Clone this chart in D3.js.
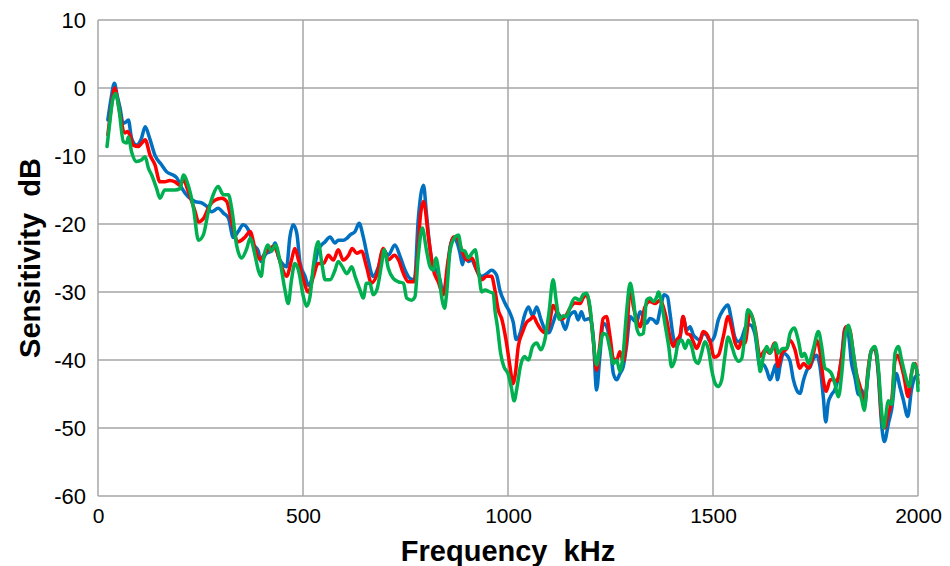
<!DOCTYPE html>
<html><head><meta charset="utf-8">
<script src="https://cdn.jsdelivr.net/npm/d3@7"></script>
<style>
body{margin:0;background:#fff;}
svg{display:block;}
.tick text{font-family:"Liberation Sans",Arial,sans-serif;}
</style></head>
<body>
<svg id="chart" width="950" height="566"></svg>
<script>
const xTicks = [0, 500, 1000, 1500, 2000];
const yTicks = [10, 0, -10, -20, -30, -40, -50, -60];
const xTitle = "Frequency  kHz";
const yTitle = "Sensitivity  dB";
const seriesColors = ["#0070C0", "#FF0000", "#00B050"];

const blue = [[24,-4.7],[32,-1.5],[40,0.7],[47,-1.2],[54,-3],[61,-5.2],[68,-5],[74,-4.7],[82,-7.4],[94,-8.4],[106,-7.4],[115,-5.7],[127,-7.6],[139,-9.9],[155,-11.3],[167,-12.3],[183,-12.8],[192,-13.2],[204,-14.7],[220,-16],[237,-16.7],[253,-16.9],[265,-17.4],[277,-18.2],[293,-17.7],[306,-18.4],[318,-19.1],[330,-22],[342,-21.1],[354,-20.1],[367,-20.9],[379,-23],[391,-24],[397,-25.5],[411,-24.3],[423,-24],[432,-22.8],[440,-24.8],[452,-26],[460,-26.3],[468,-21.9],[476,-20.1],[485,-21.4],[493,-25.8],[505,-27.7],[513,-29],[525,-27.3],[537,-23.8],[554,-22.6],[566,-21.9],[578,-22.8],[586,-22.4],[598,-22.4],[607,-22.1],[615,-21.6],[627,-21.1],[637,-19.9],[647,-21.9],[659,-25.3],[671,-27.7],[684,-26.3],[696,-23.8],[708,-24.6],[724,-23.1],[737,-24.8],[749,-26.8],[761,-28],[772,-28.2],[781,-19.4],[794,-14.3],[801,-18.4],[810,-23.8],[818,-26.3],[826,-26.8],[834,-28.2],[842,-30.2],[850,-28.2],[859,-23.3],[867,-22.1],[875,-22.6],[883,-24.3],[889,-26],[895,-24.3],[903,-25.5],[912,-25.3],[920,-26.3],[928,-27.3],[936,-27.7],[948,-27.3],[960,-26.8],[972,-27.5],[980,-29.7],[993,-31.7],[1005,-33.1],[1013,-34.5],[1020,-37],[1030,-36],[1040,-33.5],[1050,-32.2],[1060,-33.5],[1070,-32.2],[1080,-34],[1090,-35.5],[1100,-36],[1110,-34.5],[1120,-33],[1130,-34],[1140,-35.5],[1150,-33.5],[1163,-32.9],[1171,-34.1],[1179,-32.9],[1187,-34.1],[1200,-33.9],[1208,-36.6],[1216,-44.4],[1224,-39.5],[1232,-34.6],[1240,-35],[1249,-37.5],[1257,-42],[1265,-42.9],[1273,-42],[1281,-41],[1289,-38],[1298,-33.6],[1306,-34.1],[1314,-34.4],[1322,-32.9],[1330,-33.6],[1338,-34.6],[1346,-33.9],[1355,-34.1],[1363,-34.6],[1371,-32.6],[1381,-30.4],[1389,-30.7],[1395,-33.1],[1403,-36.6],[1411,-38],[1420,-36.6],[1427,-33.6],[1436,-35.6],[1444,-35.1],[1452,-36.3],[1460,-36.8],[1468,-37.1],[1476,-36.1],[1484,-36.3],[1493,-37.3],[1503,-36.6],[1513,-34.1],[1525,-32.6],[1536,-31.9],[1545,-34.1],[1553,-36.6],[1562,-37.3],[1570,-36.8],[1580,-35.1],[1590,-34.8],[1602,-36.1],[1615,-41],[1623,-40.7],[1631,-41.5],[1639,-42.9],[1647,-41.7],[1653,-40.7],[1657,-42.9],[1664,-40.7],[1672,-39],[1680,-39.3],[1688,-40.2],[1696,-42.9],[1704,-44.4],[1712,-44.9],[1721,-42.9],[1729,-41.5],[1737,-41],[1745,-39.8],[1753,-39.3],[1761,-41],[1769,-45.4],[1775,-49.1],[1781,-46.3],[1789,-45.1],[1797,-44.4],[1806,-42.5],[1814,-39.5],[1822,-35.3],[1830,-36.1],[1838,-40.5],[1846,-42.5],[1855,-45.1],[1863,-44.4],[1869,-46.9],[1877,-42.9],[1885,-38.8],[1895,-38.3],[1903,-42],[1911,-49.3],[1918,-52],[1928,-49.3],[1936,-47.2],[1947,-42],[1956,-44],[1964,-45.8],[1975,-48.3],[1984,-44.4],[1993,-42.5],[2000,-42.2]];

const red = [[24,-6.9],[32,-3],[41,0],[47,-1.5],[54,-4],[66,-6.6],[72,-6.4],[78,-7],[86,-8.4],[98,-8.6],[108,-8],[115,-7.6],[127,-9.9],[139,-11.3],[151,-13.8],[163,-13.8],[175,-13.6],[188,-13.8],[200,-14.3],[208,-13.5],[220,-15.2],[237,-18.2],[245,-19.7],[257,-19.2],[273,-17.2],[285,-16.5],[302,-16.2],[314,-16.7],[326,-19.7],[342,-22.6],[359,-21.9],[371,-21.1],[383,-23.6],[395,-25.2],[411,-24],[428,-23.3],[436,-24],[448,-26.3],[460,-27.7],[472,-25.3],[480,-23.6],[489,-25.3],[501,-28.2],[513,-30],[525,-27.8],[537,-25.8],[550,-25.8],[562,-24.6],[574,-25.3],[586,-23.8],[598,-25.3],[611,-24.6],[620,-23.6],[631,-24.3],[643,-24],[655,-26.3],[667,-28.7],[680,-27.5],[696,-23.6],[708,-25.3],[723,-24.6],[733,-25.3],[745,-27.3],[757,-28.5],[770,-28.5],[779,-25],[786,-19],[794,-16.7],[806,-21.9],[818,-26.8],[830,-28.5],[842,-30.4],[854,-25.3],[867,-21.9],[875,-21.9],[887,-23.8],[899,-25.3],[912,-25],[924,-26.8],[936,-28.2],[948,-27.7],[960,-27.7],[968,-29.7],[976,-32.6],[985,-34],[995,-37],[1005,-41],[1012,-43.5],[1018,-42],[1025,-38],[1035,-36],[1045,-34.5],[1055,-34],[1062,-33.6],[1070,-34.5],[1080,-35.5],[1090,-36],[1100,-35],[1110,-32],[1120,-33],[1130,-34],[1140,-33.6],[1150,-32.5],[1163,-31.6],[1176,-31.7],[1183,-30.9],[1192,-30.4],[1200,-32.6],[1208,-37.1],[1216,-41.5],[1224,-37.8],[1232,-33.9],[1240,-33.6],[1249,-36.6],[1257,-39.8],[1265,-40],[1273,-38.8],[1281,-40.2],[1289,-37.1],[1298,-29.2],[1306,-32.2],[1314,-34.1],[1322,-35.1],[1334,-32.2],[1346,-31.4],[1359,-31.7],[1371,-31.2],[1379,-32.2],[1387,-34.1],[1395,-36.6],[1403,-38],[1411,-37.1],[1420,-36.3],[1427,-33.6],[1436,-36.1],[1444,-36.3],[1452,-37.3],[1460,-38.3],[1468,-37.3],[1476,-35.8],[1484,-36.1],[1493,-37.3],[1503,-39.6],[1513,-39.3],[1525,-36.6],[1537,-33.6],[1545,-35.1],[1554,-37.5],[1562,-38.3],[1570,-37.3],[1578,-37.5],[1590,-33.1],[1602,-35.1],[1615,-39.5],[1627,-38.5],[1639,-39],[1650,-37.5],[1659,-41],[1668,-39],[1680,-38.3],[1688,-37.1],[1700,-38.5],[1712,-41.2],[1721,-40.5],[1733,-41.2],[1745,-39],[1753,-37.1],[1761,-38.8],[1769,-42.9],[1776,-44.6],[1786,-42.9],[1794,-42.9],[1802,-43.1],[1814,-39.5],[1824,-35.1],[1834,-35.6],[1842,-39],[1850,-42],[1859,-44],[1869,-46.5],[1879,-41],[1887,-38.5],[1895,-38.3],[1903,-41.5],[1911,-48.3],[1918,-50],[1928,-47.8],[1936,-45.9],[1944,-40],[1950,-39.3],[1958,-40.5],[1966,-42.5],[1976,-45.4],[1984,-42],[1993,-40.5],[2000,-43.4]];

const green = [[22,-8.6],[28,-5.5],[35,-2],[43,-0.8],[51,-3],[62,-7.9],[70,-8.1],[74,-7.2],[82,-9.4],[94,-10.8],[106,-10.6],[115,-10.1],[123,-11.8],[131,-12.8],[143,-14.8],[151,-16.2],[163,-15],[188,-15],[200,-14.8],[208,-12.8],[220,-14.3],[233,-17.7],[245,-22.4],[257,-21.6],[269,-18.2],[281,-15.7],[293,-14.5],[306,-15.7],[318,-15.7],[326,-17.7],[338,-23.1],[350,-25],[363,-23.6],[371,-22.1],[383,-24.6],[391,-26.8],[398,-27.7],[404,-25],[414,-23.1],[423,-24],[433,-23.1],[444,-25.5],[456,-29.7],[464,-31.7],[472,-28.2],[480,-25.8],[489,-26.8],[501,-30.7],[509,-32.1],[517,-30.7],[525,-26.3],[537,-22.6],[546,-25.8],[554,-28.2],[566,-28.2],[578,-26.8],[586,-25.5],[596,-26.3],[607,-27.3],[619,-26.3],[627,-27.7],[639,-29.7],[647,-30.9],[655,-28.7],[663,-28.7],[671,-30.4],[680,-29.7],[692,-25.8],[698,-23.8],[708,-26.5],[720,-28],[733,-28.5],[745,-28.7],[753,-30.9],[765,-31.2],[773,-30.7],[781,-24.8],[791,-20.6],[801,-23.8],[810,-26.3],[818,-26.8],[824,-25],[832,-27.5],[838,-30.7],[845,-32.4],[850,-30.4],[859,-23.8],[871,-21.9],[879,-21.6],[887,-23.8],[895,-24],[903,-25],[912,-24.3],[920,-23.8],[928,-26.8],[936,-30],[944,-29.7],[956,-30],[964,-30.2],[968,-32.6],[974,-35],[982,-39],[990,-41],[1000,-42],[1008,-44],[1015,-46],[1022,-44],[1030,-41],[1040,-39.5],[1050,-40],[1060,-38],[1070,-37.5],[1080,-38.5],[1090,-37],[1100,-33],[1110,-28.2],[1118,-31.5],[1125,-34],[1135,-33.5],[1143,-33.6],[1150,-32.5],[1163,-30.9],[1176,-31.2],[1183,-30.4],[1192,-30.2],[1200,-32.2],[1208,-37.1],[1216,-40.7],[1224,-38.3],[1232,-36.1],[1240,-36.3],[1249,-38.5],[1257,-40.5],[1265,-40],[1273,-41.7],[1281,-39],[1289,-33.1],[1298,-28.7],[1306,-31.2],[1314,-35.3],[1322,-36.3],[1330,-36.1],[1338,-31.2],[1346,-30.9],[1355,-31.4],[1363,-30.7],[1367,-30],[1376,-32.2],[1384,-35.1],[1392,-38],[1399,-41],[1407,-40],[1416,-37.3],[1424,-37.1],[1432,-38.3],[1440,-37.1],[1448,-38],[1456,-40],[1464,-40.5],[1472,-39],[1480,-37.3],[1489,-38.5],[1497,-41.5],[1505,-43.4],[1513,-43.9],[1521,-43],[1529,-39.5],[1537,-36.6],[1545,-37.8],[1554,-39.5],[1562,-40.2],[1570,-39.8],[1578,-36.1],[1585,-32.6],[1598,-34.1],[1610,-39],[1615,-41.7],[1623,-39.5],[1631,-38],[1639,-39],[1653,-37.5],[1659,-39],[1670,-38.3],[1680,-38.3],[1688,-36.1],[1698,-35.3],[1708,-37.1],[1717,-39.5],[1723,-39],[1733,-40.5],[1745,-38.3],[1757,-35.8],[1765,-38],[1773,-41.2],[1781,-41.5],[1789,-42],[1797,-43.4],[1806,-45.4],[1814,-42],[1822,-36.6],[1830,-34.9],[1838,-37.1],[1846,-40.5],[1855,-44],[1863,-45.9],[1869,-47.4],[1877,-42.5],[1887,-38.5],[1895,-38],[1903,-41],[1911,-47.4],[1916,-50],[1928,-46],[1936,-46.5],[1944,-39],[1952,-38],[1960,-40],[1968,-42],[1979,-43.9],[1989,-40.5],[1997,-41.5],[2000,-44.5]];

const series = [blue, red, green];

const svg = d3.select("#chart");
const m = {left: 98, right: 918, top: 20, bottom: 496};
const x = d3.scaleLinear().domain([0, 2000]).range([m.left, m.right]);
const y = d3.scaleLinear().domain([-60, 10]).range([m.bottom, m.top]);
const gridColor = "#a6a6a6";

// horizontal gridlines
svg.append("g").selectAll("line").data(yTicks).join("line")
  .attr("x1", m.left).attr("x2", m.right)
  .attr("y1", d => y(d)).attr("y2", d => y(d))
  .attr("stroke", gridColor).attr("stroke-width", 1.5);
// vertical gridlines
svg.append("g").selectAll("line").data(xTicks).join("line")
  .attr("x1", d => x(d)).attr("x2", d => x(d))
  .attr("y1", m.top).attr("y2", m.bottom)
  .attr("stroke", gridColor).attr("stroke-width", 1.5);

// axes (labels only)
const fmt = d => String(d);
const yAxis = svg.append("g").attr("transform", `translate(${m.left},0)`)
  .call(d3.axisLeft(y).tickValues(yTicks).tickSize(0).tickPadding(12).tickFormat(fmt));
yAxis.select(".domain").remove();
yAxis.selectAll("text").attr("font-size", 22).attr("fill", "#000");

const xAxis = svg.append("g").attr("transform", `translate(0,${m.bottom})`)
  .call(d3.axisBottom(x).tickValues(xTicks).tickSize(0).tickPadding(12).tickFormat(fmt));
xAxis.select(".domain").remove();
xAxis.selectAll("text").attr("font-size", 21).attr("fill", "#000");

// lines
const line = d3.line().x(d => x(d[0])).y(d => y(d[1])).curve(d3.curveMonotoneX);
svg.append("g").selectAll("path").data(series).join("path")
  .attr("d", line)
  .attr("fill", "none")
  .attr("stroke", (d, i) => seriesColors[i])
  .attr("stroke-width", 3.5)
  .attr("stroke-linejoin", "round")
  .attr("stroke-linecap", "round");

// titles
svg.append("text").attr("x", 508).attr("y", 561)
  .attr("text-anchor", "middle")
  .attr("font-family", "'Liberation Sans',Arial,sans-serif")
  .attr("font-weight", "bold").attr("font-size", 29)
  .style("white-space", "pre")
  .text(xTitle);
svg.append("text")
  .attr("transform", `translate(40,258) rotate(-90)`)
  .attr("text-anchor", "middle")
  .attr("font-family", "'Liberation Sans',Arial,sans-serif")
  .attr("font-weight", "bold").attr("font-size", 29)
  .style("white-space", "pre")
  .text(yTitle);
</script>
</body></html>
